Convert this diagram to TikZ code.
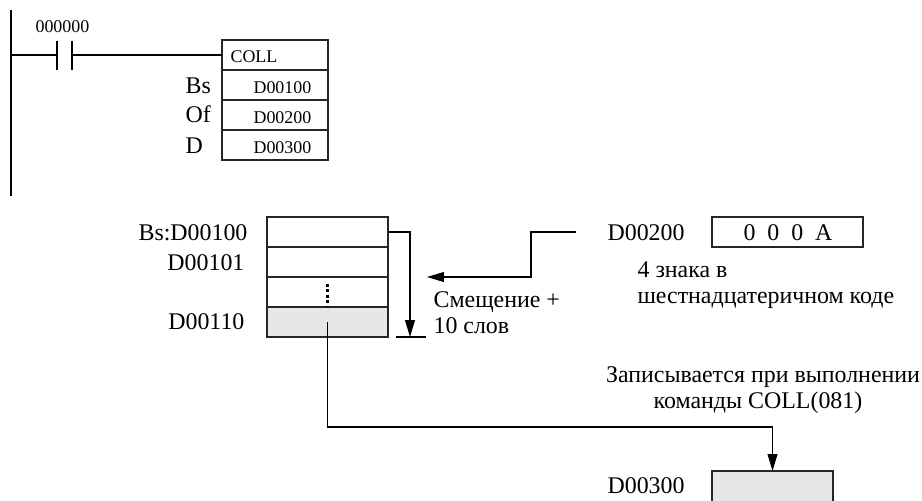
\documentclass[tikz,border=0pt]{standalone}
\usepackage{fontspec}
\setmainfont{Liberation Serif}
\usetikzlibrary{arrows.meta,positioning}
\definecolor{cellgray}{HTML}{E6E7E8}

\begin{document}
\begin{tikzpicture}[x=0.02cm,y=-0.02cm,>={Stealth[inset=0pt,length=9.6pt,width=5.6pt]},line width=0.65pt,
    bigtxt/.style={anchor=base west,inner sep=0pt,font=\fontsize{13.6}{16}\selectfont},
    smalltxt/.style={anchor=base west,inner sep=0pt,font=\fontsize{10.2}{12}\selectfont},
    oprcell/.style={draw=black!85,minimum width=2.12cm,minimum height=0.6cm,outer sep=0pt,inner sep=0pt},
    memcell/.style={draw=black!85,minimum width=2.42cm,minimum height=0.6cm,outer sep=0pt,inner sep=0pt}]
  \clip (0,0) rectangle (922,500);
  \useasboundingbox (0,0) rectangle (922,500);

  % ladder rung
  \coordinate (railTop) at (11,10);
  \coordinate (railBot) at (11,196);
  \coordinate (rungStart) at (11,55);
  \coordinate (contA) at (57,55);
  \coordinate (contB) at (72,55);
  \coordinate (contAtop) at (57,41);
  \coordinate (contAbot) at (57,70);
  \coordinate (contBtop) at (72,41);
  \coordinate (contBbot) at (72,70);
  \draw[line width=0.9pt] (railTop) -- (railBot);
  \draw (contAtop) -- (contAbot);
  \draw (contBtop) -- (contBbot);
  \node[smalltxt] (contLbl) at (35,33) {000000};

  % instruction box
  \node[oprcell] (collCell) at (275,55) {};
  \node[oprcell] (bsCell) at (275,85) {};
  \node[oprcell] (ofCell) at (275,115) {};
  \node[oprcell] (dCell) at (275,145) {};
  \draw (rungStart) -- (contA);
  \draw (contB) -- (collCell.west);
  \node[smalltxt] (collTxt) at (230,63) {COLL};
  \node[smalltxt] (bsTxt) at (253,93) {D00100};
  \node[smalltxt] (ofTxt) at (253,123) {D00200};
  \node[smalltxt] (dTxt) at (253,153) {D00300};
  \node[bigtxt] (bsLbl) at (185,93) {Bs};
  \node[bigtxt] (ofLbl) at (185,122) {Of};
  \node[bigtxt] (dLbl) at (185,153) {D};

  % memory words
  \node[memcell] (wordA) at (327.5,232) {};
  \node[memcell] (wordB) at (327.5,262) {};
  \node[memcell] (wordDots) at (327.5,292) {};
  \node[memcell,fill=cellgray] (wordLast) at (327.5,322) {};
  \coordinate (dotTop) at (327.5,284);
  \draw[line width=1.4pt,dash pattern=on 1.6pt off 1.5pt] (dotTop) -- (wordDots.south);
  \node[bigtxt,anchor=base east] (wordALbl) at (248,240) {Bs:D00100};
  \node[bigtxt,anchor=base east] (wordBLbl) at (245,270) {D00101};
  \node[bigtxt,anchor=base east] (wordLastLbl) at (245,329) {D00110};

  % word offset
  \coordinate (tickL) at (396,337);
  \coordinate (tickR) at (426,337);
  \coordinate (tickMid) at (410,337);
  \draw (tickL) -- (tickR);
  \draw[->] (wordA.east) -| (tickMid);
  \node[bigtxt] (ofsA) at (433,307) {Смещение +};
  \node[bigtxt] (ofsB) at (433,333) {10 слов};

  % offset value
  \node[bigtxt] (hexLbl) at (607,240) {D00200};
  \node[memcell,minimum width=3.02cm] (hexCell) at (787.5,232) {};
  \node[bigtxt,anchor=base] (hexTxt) at (788,240) {0 \ 0 \ 0 \ A};
  \coordinate (hexOut) at (576,232);
  \coordinate (hexBend) at (531,277);
  \coordinate (hexTip) at (427,277);
  \draw[->] (hexOut) -| (hexBend) -- (hexTip);
  \node[bigtxt] (hexNoteA) at (637,277) {4 знака в};
  \node[bigtxt] (hexNoteB) at (637,303) {шестнадцатеричном коде};

  % result
  \node[bigtxt,anchor=base] (resNoteA) at (763,382) {Записывается при выполнении};
  \node[bigtxt,anchor=base] (resNoteB) at (758,408) {команды COLL(081)};
  \node[bigtxt] (resLbl) at (607,493) {D00300};
  \node[memcell,fill=cellgray,minimum height=0.8cm] (resCell) at (772.5,491) {};
  \coordinate (resBend) at (772.5,427);
  \draw[->] (wordLast.center) |- (resBend) -- (resCell.north);
\end{tikzpicture}
\end{document}
